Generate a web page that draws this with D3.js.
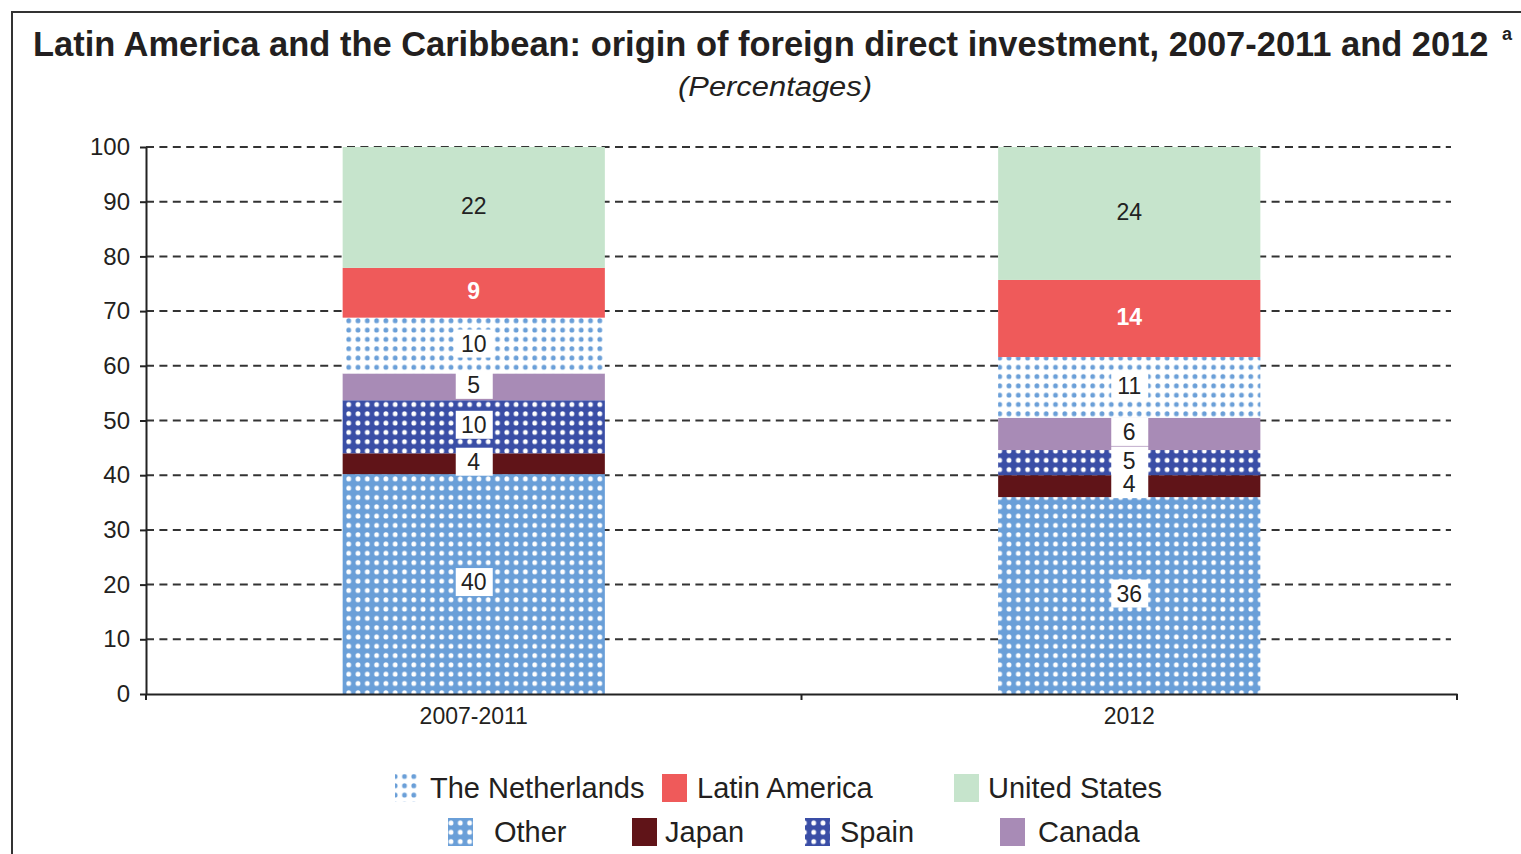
<!DOCTYPE html>
<html>
<head>
<meta charset="utf-8">
<script src="https://cdn.jsdelivr.net/npm/d3@7"></script>
<style>
  body { margin: 0; background: #fff; }
  svg { display: block; font-family: "Liberation Sans", Arial, sans-serif; }
</style>
</head>
<body>
<svg id="chart" width="1521" height="854"></svg>
<script>
// periods on the x axis
const periods = ["2007-2011", "2012"];
// stack order, bottom to top
const seriesNames = ["Other", "Japan", "Spain", "Canada", "The Netherlands", "Latin America", "United States"];
// percentages per period
const other = [40.2, 36.0];
const japan = [3.8, 4.0];
const spain = [9.7, 4.6];
const canada = [4.9, 5.9];
const netherlands = [10.2, 11.1];
const latinAmerica = [9.1, 14.1];
const unitedStates = [22.1, 24.3];
const yTicks = [0, 10, 20, 30, 40, 50, 60, 70, 80, 90, 100];

// legend layout: two rows as in the source
const legendRow1 = ["The Netherlands", "Latin America", "United States"];
const legendRow2 = ["Other", "Japan", "Spain", "Canada"];

const fills = {
  "Other": "url(#pat-other)",
  "Japan": "#601418",
  "Spain": "url(#pat-spain)",
  "Canada": "#a88bb6",
  "The Netherlands": "url(#pat-neth)",
  "Latin America": "#ef5a5a",
  "United States": "#c6e4cc"
};

const margin = {top: 147, right: 64, bottom: 160, left: 146};
const W = 1521, H = 854;

const svg = d3.select("#chart");

// patterns
const defs = svg.append("defs");
function dotPattern(id, bg, dot) {
  let p = defs.append("pattern")
    .attr("id", id)
    .attr("patternUnits", "userSpaceOnUse")
    .attr("width", 9.3).attr("height", 9.3);
  p.append("rect").attr("width", 9.3).attr("height", 9.3).attr("fill", bg);
  p.append("circle").attr("cx", 4.6).attr("cy", 4.6).attr("r", 2.4).attr("fill", dot);
}
dotPattern("pat-other", "#6a9fd8", "#ffffff");
dotPattern("pat-spain", "#3a4ea6", "#ffffff");
dotPattern("pat-neth", "#ffffff", "#6a9fd8");

// frame
svg.append("rect")
  .attr("x", 12).attr("y", 12)
  .attr("width", W + 20).attr("height", H + 20)
  .attr("fill", "none").attr("stroke", "#333").attr("stroke-width", 2);

// title: the source font is condensed, so squeeze it horizontally
const title = svg.append("text")
  .attr("font-size", 35).attr("font-weight", "bold").attr("fill", "#231f20")
  .text("Latin America and the Caribbean: origin of foreign direct investment, 2007-2011 and 2012");
const titleLen = title.node().getComputedTextLength();
title.attr("transform", "translate(33,56) scale(" + (1456 / titleLen) + ",1)");
svg.append("text")
  .attr("x", 1502).attr("y", 40)
  .attr("font-size", 18).attr("font-weight", "bold").attr("fill", "#231f20")
  .text("a");
svg.append("text")
  .attr("x", 775).attr("y", 96)
  .attr("text-anchor", "middle")
  .attr("font-size", 27).attr("font-style", "italic").attr("fill", "#231f20")
  .attr("textLength", 194).attr("lengthAdjust", "spacingAndGlyphs")
  .text("(Percentages)");

const x0 = margin.left, x1 = W - margin.right;
const y0 = H - margin.bottom, y1 = margin.top;

const x = d3.scaleBand()
  .domain(periods)
  .range([x0, x1])
  .paddingInner(0.6)
  .paddingOuter(0.3);
const y = d3.scaleLinear()
  .domain([0, 100])
  .range([y0, y1]);

// gridlines
svg.append("g")
  .selectAll("line")
  .data(yTicks.filter(d => d > 0))
  .enter().append("line")
  .attr("x1", x0).attr("x2", x1 - 6)
  .attr("y1", d => y(d)).attr("y2", d => y(d))
  .attr("stroke", "#333").attr("stroke-width", 2)
  .attr("stroke-dasharray", "8,5.4");

// stacked bars
const table = periods.map((p, i) => ({
  period: p,
  "Other": other[i],
  "Japan": japan[i],
  "Spain": spain[i],
  "Canada": canada[i],
  "The Netherlands": netherlands[i],
  "Latin America": latinAmerica[i],
  "United States": unitedStates[i]
}));
const stacked = d3.stack().keys(seriesNames)(table);

const layers = svg.append("g")
  .selectAll("g")
  .data(stacked)
  .enter().append("g")
  .attr("fill", d => fills[d.key]);
layers.selectAll("rect")
  .data(d => d)
  .enter().append("rect")
  .attr("x", d => x(d.data.period))
  .attr("width", x.bandwidth())
  .attr("y", d => y(d[1]))
  .attr("height", d => y(d[0]) - y(d[1]));

// value labels
const labels = [];
stacked.forEach(s => {
  s.forEach(d => {
    labels.push({
      key: s.key,
      cx: x(d.data.period) + x.bandwidth() / 2,
      cy: (y(d[0]) + y(d[1])) / 2 - 2,
      v: Math.round(d[1] - d[0])
    });
  });
});
const boxed = labels.filter(d => d.key !== "Latin America" && d.key !== "United States");
svg.append("g")
  .selectAll("rect")
  .data(boxed)
  .enter().append("rect")
  .attr("x", d => d.cx - 18).attr("y", d => d.cy - 14)
  .attr("width", 37).attr("height", 28)
  .attr("fill", "#fff");
svg.append("g")
  .selectAll("text")
  .data(labels)
  .enter().append("text")
  .attr("x", d => d.cx)
  .attr("y", d => d.cy)
  .attr("dy", "0.36em")
  .attr("text-anchor", "middle")
  .attr("font-size", 23)
  .attr("font-weight", d => d.key === "Latin America" ? "bold" : "normal")
  .attr("fill", d => d.key === "Latin America" ? "#fff" : "#222")
  .text(d => d.v);

// y axis
const yAxis = svg.append("g")
  .attr("transform", "translate(" + x0 + ",0)")
  .call(d3.axisLeft(y).tickValues(yTicks).tickSize(6).tickPadding(10).tickSizeOuter(0));
yAxis.select(".domain").attr("stroke", "#222").attr("stroke-width", 2);
yAxis.selectAll(".tick line").attr("stroke", "#222").attr("stroke-width", 2);
yAxis.selectAll(".tick text")
  .attr("font-size", 24).attr("fill", "#231f20")
  .attr("font-family", "Liberation Sans, Arial, sans-serif");

// x axis
const xAxis = svg.append("g")
  .attr("transform", "translate(0," + y0 + ")")
  .call(d3.axisBottom(x).tickSize(0).tickPadding(14).tickSizeOuter(0));
xAxis.select(".domain").attr("stroke", "#222").attr("stroke-width", 2);
xAxis.selectAll(".tick text")
  .attr("font-size", 23).attr("fill", "#231f20")
  .attr("font-family", "Liberation Sans, Arial, sans-serif");
// category boundary ticks
xAxis.selectAll(".bound")
  .data([x0, (x0 + x1) / 2, x1])
  .enter().append("line")
  .attr("class", "bound")
  .attr("x1", d => d).attr("x2", d => d)
  .attr("y1", 0).attr("y2", 6)
  .attr("stroke", "#222").attr("stroke-width", 2);

// legend
function legendRow(names, xs, textXs, yTop) {
  const g = svg.append("g");
  names.forEach((n, i) => {
    g.append("rect")
      .attr("x", xs[i]).attr("y", yTop)
      .attr("width", 25).attr("height", 28)
      .attr("fill", fills[n]);
    g.append("text")
      .attr("x", textXs[i]).attr("y", yTop + 24)
      .attr("font-size", 29).attr("fill", "#231f20")
      .text(n);
  });
}
legendRow(legendRow1, [395, 662, 954], [430, 697, 988], 774);
legendRow(legendRow2, [448, 632, 805, 1000], [494, 665, 840, 1038], 818);
</script>
</body>
</html>
